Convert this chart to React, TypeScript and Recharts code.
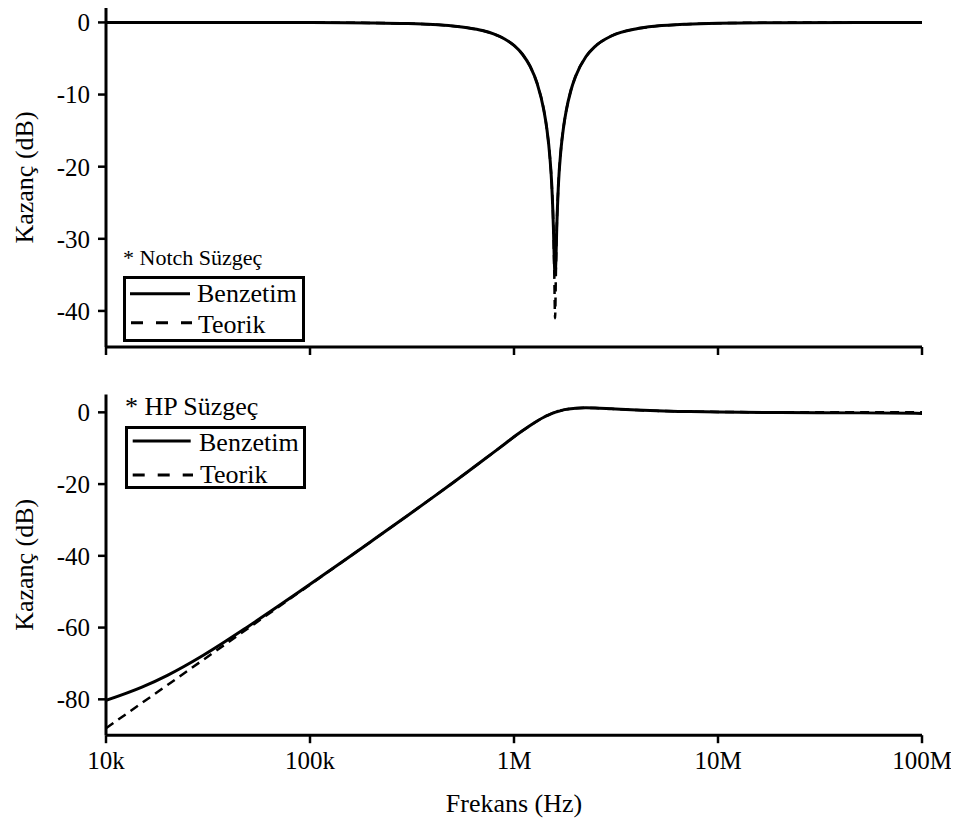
import React from 'react';
import { LineChart, Line, XAxis, YAxis, Legend } from 'recharts';

// Frequency points (Hz)
const frequencies = [
  1e4, 1.5e4, 2e4, 3e4, 5e4, 7e4, 1e5, 1.5e5, 2e5, 3e5, 4e5, 5e5, 6e5, 7e5, 8e5, 9e5,
  1e6, 1.1e6, 1.2e6, 1.3e6, 1.4e6, 1.45e6, 1.5e6, 1.53e6, 1.56e6, 1.575e6, 1.59e6,
  1.605e6, 1.62e6, 1.65e6, 1.7e6, 1.75e6, 1.8e6, 1.9e6, 2e6, 2.25e6, 2.5e6, 3e6,
  4e6, 5e6, 7e6, 1e7, 2e7, 5e7, 1e8,
];

// Notch filter (dB)
const notchSim = [
  0, 0, 0, 0, 0, -0.01, -0.02, -0.04, -0.07, -0.16, -0.3, -0.5, -0.77, -1.13, -1.63, -2.29,
  -3.19, -4.41, -6.1, -8.5, -12.14, -14.82, -18.73, -22.3, -28.39, -32.8, -35,
  -32.9, -28.55, -22.63, -17.54, -14.49, -12.35, -9.44, -7.53, -4.76, -3.31, -1.88,
  -0.87, -0.51, -0.24, -0.11, -0.03, -0.01, 0,
];
const notchTheory = [
  0, 0, 0, 0, 0, -0.01, -0.02, -0.04, -0.07, -0.16, -0.3, -0.5, -0.77, -1.13, -1.63, -2.29,
  -3.19, -4.41, -6.1, -8.5, -12.14, -14.82, -18.73, -22.3, -28.39, -34.45, -41,
  -34.53, -28.55, -22.63, -17.54, -14.49, -12.35, -9.44, -7.53, -4.76, -3.31, -1.88,
  -0.87, -0.51, -0.24, -0.11, -0.03, -0.01, 0,
];

// High-pass filter (dB)
const hpSim = [
  -80.3, -76.6, -73.3, -67.7, -59.6, -54.0, -47.9, -40.95, -35.93, -28.82, -23.71, -19.69,
  -16.36, -13.51, -11.02, -8.82, -6.8, -5.12, -3.65, -2.4, -1.37, -0.94, -0.56, -0.35,
  -0.17, -0.08, 0, 0.08, 0.16, 0.3, 0.5, 0.68, 0.82, 1.02, 1.15, 1.25, 1.2, 0.98,
  0.62, 0.41, 0.22, 0.08, -0.05, -0.15, -0.3,
];
const hpTheory = [
  -88.06, -81.01, -76.02, -68.97, -60.1, -54.25, -48.04, -40.97, -35.94, -28.82, -23.71,
  -19.69, -16.36, -13.51, -11.02, -8.82, -6.87, -5.15, -3.67, -2.41, -1.38, -0.95, -0.57,
  -0.36, -0.17, -0.08, 0, 0.08, 0.16, 0.3, 0.5, 0.68, 0.82, 1.02, 1.15, 1.25, 1.2, 0.98,
  0.62, 0.41, 0.22, 0.11, 0.03, 0, 0,
];

const freqTicks = [1e4, 1e5, 1e6, 1e7, 1e8];
const freqTickLabels = ['10k', '100k', '1M', '10M', '100M'];
const notchTicks = [-40, -30, -20, -10, 0];
const hpTicks = [-80, -60, -40, -20, 0];

const notchData = frequencies.map((f, i) => ({ f, sim: notchSim[i], theory: notchTheory[i] }));
const hpData = frequencies.map((f, i) => ({ f, sim: hpSim[i], theory: hpTheory[i] }));

const FONT = 'Liberation Serif';
const tickStyle = { fill: '#000', fontSize: 25, fontFamily: FONT };
const axisLineStyle = { stroke: '#000', strokeWidth: 3 };
const tickLineStyle = { stroke: '#000', strokeWidth: 2.5 };

const fmtFreq = (v: number) => {
  const i = freqTicks.indexOf(v);
  return i >= 0 ? freqTickLabels[i] : '';
};

const yLabel = (props: any) => {
  const vb = props.viewBox || {};
  const cy = vb.y + vb.height / 2;
  return (
    <text
      x={33}
      y={cy}
      transform={`rotate(-90, 33, ${cy})`}
      textAnchor="middle"
      fontSize={26}
      fontFamily={FONT}
      fill="#000"
    >
      Kazanç (dB)
    </text>
  );
};

const xLabel = (props: any) => {
  const vb = props.viewBox || {};
  return (
    <text
      x={vb.x + vb.width / 2}
      y={vb.y + vb.height - 9}
      textAnchor="middle"
      fontSize={26}
      fontFamily={FONT}
      fill="#000"
    >
      Frekans (Hz)
    </text>
  );
};

const NotchLegend = () => (
  <svg width={210} height={115} style={{ overflow: 'visible' }}>
    <text x={13} y={30} fontSize={22} fontFamily={FONT} fill="#000">* Notch Süzgeç</text>
    <rect x={14.5} y={42.5} width={179} height={63} fill="#fff" stroke="#000" strokeWidth={3} />
    <line x1={20} x2={80} y1={58.7} y2={58.7} stroke="#000" strokeWidth={3} />
    <text x={87} y={67} fontSize={26} fontFamily={FONT} fill="#000">Benzetim</text>
    <line x1={21} x2={82} y1={87.7} y2={87.7} stroke="#000" strokeWidth={3} strokeDasharray="12 13" />
    <text x={88} y={98} fontSize={26} fontFamily={FONT} fill="#000">Teorik</text>
  </svg>
);

const HPLegend = () => (
  <svg width={210} height={115} style={{ overflow: 'visible' }}>
    <text x={15} y={25} fontSize={26} fontFamily={FONT} fill="#000">* HP Süzgeç</text>
    <rect x={16.5} y={37.5} width={178} height={60} fill="#fff" stroke="#000" strokeWidth={3} />
    <line x1={22.7} x2={80.7} y1={51} y2={51} stroke="#000" strokeWidth={3} />
    <text x={89} y={60.7} fontSize={26} fontFamily={FONT} fill="#000">Benzetim</text>
    <line x1={22.7} x2={83} y1={85} y2={85} stroke="#000" strokeWidth={3} strokeDasharray="12 13" />
    <text x={90} y={93.3} fontSize={26} fontFamily={FONT} fill="#000">Teorik</text>
  </svg>
);

export default function App() {
  return (
    <div style={{ margin: '-8px 0 0 -8px', width: 959, height: 821, fontFamily: FONT }}>
      <LineChart
        width={959}
        height={380}
        data={notchData}
        margin={{ top: 8, right: 37, bottom: 0, left: 0 }}
      >
        <XAxis
          dataKey="f"
          type="number"
          scale="log"
          domain={[1e4, 1e8]}
          ticks={freqTicks}
          interval={0}
          allowDataOverflow
          height={33}
          tickSize={8}
          tickFormatter={() => ''}
          axisLine={axisLineStyle}
          tickLine={tickLineStyle}
          tick={tickStyle}
        />
        <YAxis
          type="number"
          domain={[-45, 2]}
          ticks={notchTicks}
          interval={0}
          allowDataOverflow
          width={106}
          tickSize={8}
          tickMargin={8}
          axisLine={axisLineStyle}
          tickLine={tickLineStyle}
          tick={tickStyle}
          label={yLabel}
        />
        <Legend
          layout="vertical"
          align="center"
          verticalAlign="middle"
          content={() => <NotchLegend />}
          wrapperStyle={{ left: 110, top: 235, width: 210, height: 115 }}
        />
        <Line
          name="Benzetim"
          dataKey="sim"
          type="monotone"
          stroke="#000"
          strokeWidth={3}
          dot={false}
          activeDot={false}
          isAnimationActive={false}
        />
        <Line
          name="Teorik"
          dataKey="theory"
          type="monotone"
          stroke="#000"
          strokeWidth={2.5}
          strokeDasharray="9 6"
          dot={false}
          activeDot={false}
          isAnimationActive={false}
        />
      </LineChart>
      <LineChart
        width={959}
        height={441}
        data={hpData}
        margin={{ top: 14.4, right: 37, bottom: 0, left: 0 }}
      >
        <XAxis
          dataKey="f"
          type="number"
          scale="log"
          domain={[1e4, 1e8]}
          ticks={freqTicks}
          interval={0}
          allowDataOverflow
          height={85.8}
          tickSize={8}
          tickMargin={8}
          tickFormatter={fmtFreq}
          axisLine={axisLineStyle}
          tickLine={tickLineStyle}
          tick={tickStyle}
          label={xLabel}
        />
        <YAxis
          type="number"
          domain={[-90, 5]}
          ticks={hpTicks}
          interval={0}
          allowDataOverflow
          width={106}
          tickSize={8}
          tickMargin={8}
          axisLine={axisLineStyle}
          tickLine={tickLineStyle}
          tick={tickStyle}
          label={yLabel}
        />
        <Legend
          layout="vertical"
          align="center"
          verticalAlign="middle"
          content={() => <HPLegend />}
          wrapperStyle={{ left: 110, top: 10, width: 210, height: 115 }}
        />
        <Line
          name="Benzetim"
          dataKey="sim"
          type="monotone"
          stroke="#000"
          strokeWidth={3}
          dot={false}
          activeDot={false}
          isAnimationActive={false}
        />
        <Line
          name="Teorik"
          dataKey="theory"
          type="monotone"
          stroke="#000"
          strokeWidth={2.5}
          strokeDasharray="9 6"
          dot={false}
          activeDot={false}
          isAnimationActive={false}
        />
      </LineChart>
    </div>
  );
}
